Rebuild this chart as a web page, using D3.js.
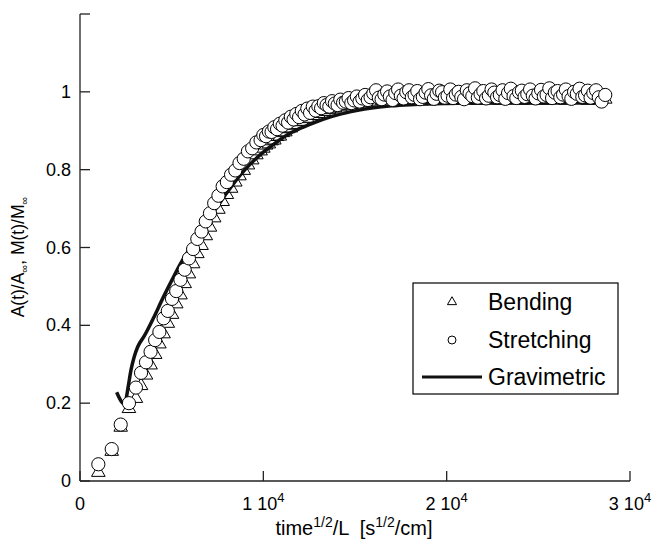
<!DOCTYPE html>
<html><head><meta charset="utf-8">
<script src="https://cdn.jsdelivr.net/npm/d3@7"></script>
<style>body{margin:0;background:#fff}svg{display:block}text{font-family:"Liberation Sans",Arial,sans-serif;fill:#000}</style>
</head><body><div id="chart"></div>
<script>
// shared abscissa (time^1/2 / L) for both mechanical series
const timeX = [1000,1730,2220,2670,3050,3330,3600,3850,
4100,4330,4560,4790,5020,5250,5480,5710,5940,6170,
6400,6630,6860,7090,7320,7550,7780,8010,8240,8470,
8700,8930,9160,9390,9620,9850,
10000,10150,10300,10450,10600,10750,10900,11050,11200,11350,
11500,11650,11800,11950,12100,12250,12400,12550,12700,12850,
13000,13150,13300,13450,13600,13750,13900,14050,14200,14350,
14500,14650,14800,14950,15100,15250,15400,15550,15700,15850,
16000,16150,16300,16450,16600,16750,16900,17050,17200,17350,
17500,17650,17800,17950,18100,18250,18400,18550,18700,18850,
19000,19150,19300,19450,19600,19750,19900,20050,20200,20350,
20500,20650,20800,20950,21100,21250,21400,21550,21700,21850,
22000,22150,22300,22450,22600,22750,22900,23050,23200,23350,
23500,23650,23800,23950,24100,24250,24400,24550,24700,24850,
25000,25150,25300,25450,25600,25750,25900,26050,26200,26350,
26500,26650,26800,26950,27100,27250,27400,27550,27700,27850,
28000,28150,28300,28450,28650];
const stretching = [0.043,0.082,0.145,0.200,0.240,0.278,0.305,0.332,
0.362,0.383,0.418,0.437,0.468,0.488,0.517,0.543,0.572,0.596,
0.622,0.641,0.667,0.688,0.714,0.733,0.757,0.768,0.787,0.798,
0.817,0.828,0.847,0.855,0.870,0.876,
0.889,0.886,0.898,0.897,0.909,0.904,0.918,0.913,0.927,0.921,
0.936,0.929,0.943,0.935,0.951,0.942,0.957,0.946,0.962,0.952,
0.963,0.958,0.971,0.966,0.962,0.976,0.970,0.966,0.980,0.972,
0.975,0.984,0.971,0.978,0.988,0.975,0.983,0.992,0.979,0.986,
0.996,1.004,0.985,0.981,0.993,1.001,0.988,0.979,0.997,1.006,
0.990,0.983,0.999,1.004,0.986,0.992,1.002,0.981,0.987,0.998,
1.007,0.991,0.982,0.995,1.003,0.999,0.985,0.990,1.006,0.984,
0.993,1.000,0.987,0.981,1.004,0.996,0.989,1.009,0.985,0.994,
1.002,0.983,0.990,1.006,0.998,0.986,0.992,1.004,0.982,0.997,
1.008,0.989,0.984,0.999,1.003,0.987,0.994,1.006,0.990,0.983,
0.996,1.005,0.988,0.992,1.009,0.984,0.998,1.002,0.986,0.993,
1.006,0.989,0.982,1.000,0.995,1.008,0.987,0.991,1.003,0.985,
0.997,1.004,0.986,0.975,0.992];
const bending = [0.022,0.076,0.138,0.186,0.212,0.245,0.272,0.298,
0.325,0.352,0.378,0.405,0.428,0.455,0.478,0.507,0.532,0.558,
0.584,0.605,0.630,0.652,0.676,0.698,0.718,0.736,0.752,0.768,
0.784,0.798,0.812,0.825,0.838,0.848,
0.855,0.863,0.866,0.874,0.876,0.885,0.886,0.895,0.897,0.905,
0.907,0.914,0.916,0.923,0.924,0.931,0.932,0.939,0.939,0.945,
0.944,0.950,0.949,0.955,0.954,0.959,0.958,0.963,0.961,0.966,
0.964,0.968,0.967,0.971,0.969,0.973,0.971,0.975,0.973,0.976,
0.975,0.977,0.974,0.978,0.976,0.979,0.976,0.980,0.977,0.981,
0.978,0.982,0.977,0.981,0.979,0.983,0.978,0.982,0.980,0.984,
0.979,0.983,0.978,0.984,0.980,0.982,0.979,0.985,0.981,0.983,
0.978,0.984,0.980,0.983,0.979,0.985,0.981,0.982,0.978,0.984,
0.980,0.983,0.979,0.985,0.981,0.982,0.978,0.984,0.980,0.983,
0.979,0.985,0.981,0.982,0.978,0.984,0.980,0.983,0.979,0.985,
0.981,0.982,0.978,0.984,0.980,0.983,0.979,0.985,0.981,0.982,
0.978,0.984,0.980,0.983,0.979,0.985,0.981,0.982,0.978,0.984,
0.980,0.983,0.979,0.985,0.981];
// gravimetric curve
const gravX = [2000,2150,2350,2480,2620,2780,2950,3150,3500,4000,4500,5000,5500,6000,6500,7000,7500,8000,8500,9000,9500,10000,10500,11000,11500,12000,12500,13000,13500,14000,14500,15000,16000,17000,18000,19000,20000,22000,24000,26000,28000,28700];
const gravY = [0.228,0.213,0.200,0.205,0.240,0.285,0.318,0.345,0.372,0.418,0.468,0.515,0.560,0.598,0.636,0.672,0.706,0.740,0.772,0.800,0.824,0.845,0.863,0.880,0.895,0.906,0.916,0.925,0.933,0.940,0.946,0.951,0.959,0.964,0.967,0.969,0.970,0.971,0.971,0.972,0.972,0.972];
const xTicks = [0,10000,20000,30000];
const xTickLabels = [["0",""],["1 10","4"],["2 10","4"],["3 10","4"]];
const yTicks = [0,0.2,0.4,0.6,0.8,1,1.2];
const yTickLabels = ["0","0.2","0.4","0.6","0.8","1",""];
const legendLabels = ["Bending","Stretching","Gravimetric"];

const W=654,H=539;
const svg=d3.select("#chart").append("svg").attr("width",W).attr("height",H);
const x=d3.scaleLinear().domain([0,30000]).range([80,630]);
const y=d3.scaleLinear().domain([0,1.2]).range([481,14]);

// axes
const ax=svg.append("g").attr("stroke","#222").attr("stroke-width",1.3);
ax.append("line").attr("x1",x(0)).attr("x2",x(30000)).attr("y1",y(0)).attr("y2",y(0));
ax.append("line").attr("x1",x(0)).attr("x2",x(0)).attr("y1",y(0)).attr("y2",y(1.2));
xTicks.forEach(t=>ax.append("line").attr("x1",x(t)).attr("x2",x(t)).attr("y1",y(0)).attr("y2",y(0)-10));
yTicks.forEach(t=>ax.append("line").attr("x1",x(0)).attr("x2",x(0)+10).attr("y1",y(t)).attr("y2",y(t)));

xTicks.forEach((t,i)=>{
  const tx=svg.append("text").attr("x",x(t)).attr("y",510).attr("text-anchor","middle").attr("font-size",18);
  tx.append("tspan").text(xTickLabels[i][0]);
  if(xTickLabels[i][1]) tx.append("tspan").attr("dy",-8).attr("font-size",13).text(xTickLabels[i][1]);
});
yTicks.forEach((t,i)=>{
  if(!yTickLabels[i]) return;
  svg.append("text").attr("x",71).attr("y",y(t)+6).attr("text-anchor","end").attr("font-size",18).text(yTickLabels[i]);
});

// x title
const xt=svg.append("text").attr("x",354).attr("y",535).attr("text-anchor","middle").attr("font-size",20).style("white-space","pre");
xt.append("tspan").text("time");
xt.append("tspan").attr("dy",-8).attr("font-size",14).text("1/2");
xt.append("tspan").attr("dy",8).text("/L  [s");
xt.append("tspan").attr("dy",-8).attr("font-size",14).text("1/2");
xt.append("tspan").attr("dy",8).text("/cm]");

// y title
const yt=svg.append("text").attr("transform","translate(24,257) rotate(-90)").attr("text-anchor","middle").attr("font-size",17.5);
yt.append("tspan").text("A(t)/A");
yt.append("tspan").attr("dy",4).attr("font-size",11).text("∞");
yt.append("tspan").attr("dy",-4).text(", M(t)/M");
yt.append("tspan").attr("dy",4).attr("font-size",11).text("∞");

const data=timeX.map((t,i)=>({t,b:bending[i],s:stretching[i]}));
const tri=d3.symbol().type(d3.symbolTriangle).size(80);
const triSmall=d3.symbol().type(d3.symbolTriangle).size(36);

// bending triangles
svg.append("g").selectAll("path").data(data).join("path")
  .attr("d",tri).attr("transform",d=>`translate(${x(d.t)},${y(d.b)})`)
  .attr("fill","#fff").attr("stroke","#000").attr("stroke-width",1);

// gravimetric line
svg.append("path").datum(gravX.map((t,i)=>[t,gravY[i]]))
  .attr("d",d3.line().x(d=>x(d[0])).y(d=>y(d[1])).curve(d3.curveMonotoneX))
  .attr("fill","none").attr("stroke","#111").attr("stroke-width",3.5).attr("stroke-linejoin","round");

// stretching circles
svg.append("g").selectAll("circle").data(data).join("circle")
  .attr("cx",d=>x(d.t)).attr("cy",d=>y(d.s)).attr("r",6.6)
  .attr("fill","#fff").attr("stroke","#000").attr("stroke-width",1);

// legend
const lg=svg.append("g");
lg.append("rect").attr("x",413).attr("y",283).attr("width",205).attr("height",111).attr("fill","#fff").attr("stroke","#000").attr("stroke-width",1.2);
lg.append("path").attr("d",triSmall).attr("transform","translate(452,302)").attr("fill","#fff").attr("stroke","#000");
lg.append("circle").attr("cx",452).attr("cy",340).attr("r",4).attr("fill","#fff").attr("stroke","#000");
lg.append("line").attr("x1",422).attr("x2",482).attr("y1",377).attr("y2",377).attr("stroke","#111").attr("stroke-width",3);
[302,340,377].forEach((yy,i)=>lg.append("text").attr("x",488).attr("y",yy+8).attr("font-size",23).text(legendLabels[i]));
</script></body></html>
